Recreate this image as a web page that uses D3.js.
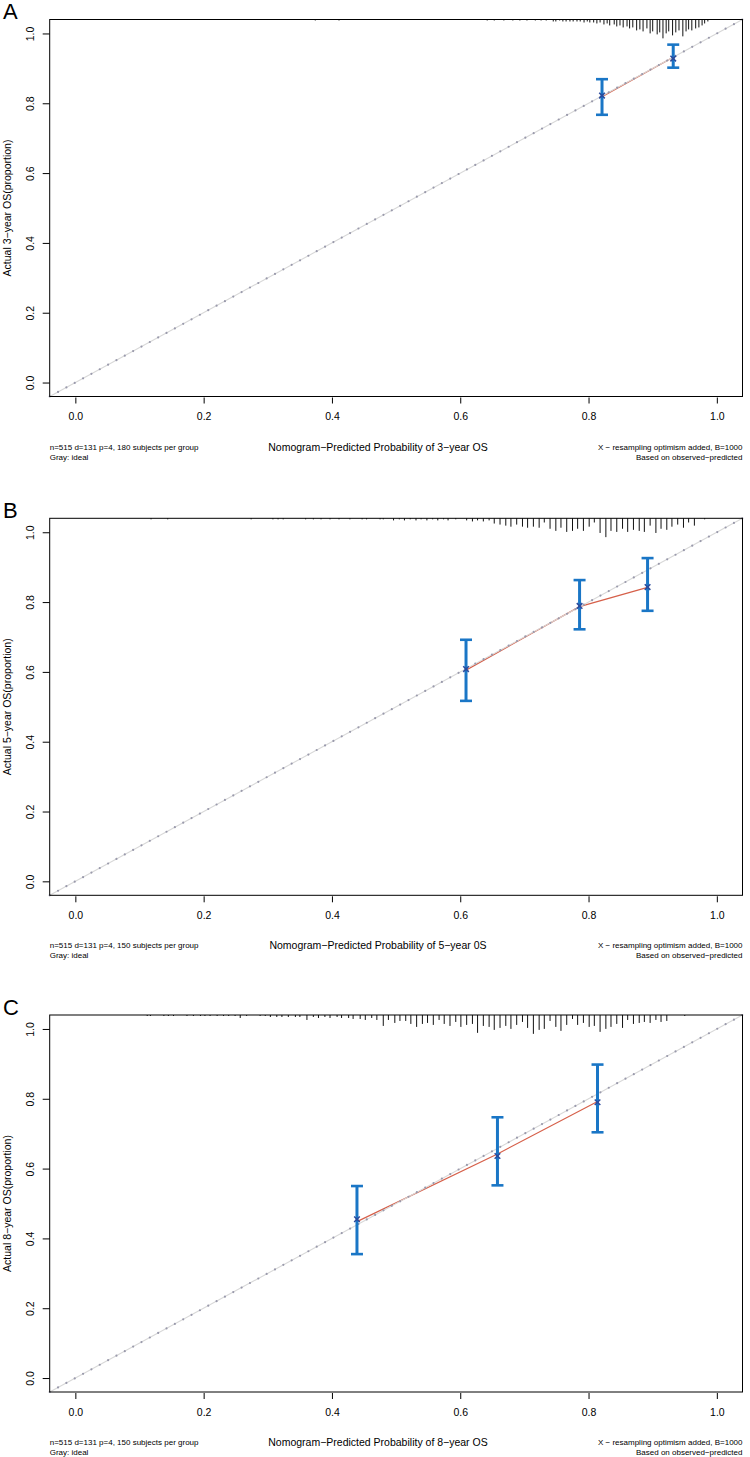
<!DOCTYPE html>
<html>
<head>
<meta charset="utf-8">
<script src="https://cdn.jsdelivr.net/npm/d3@7"></script>
<style>
  body { margin: 0; background: #fff; }
  svg { display: block; }
  text { font-family: "Liberation Sans", Arial, Helvetica, sans-serif; fill: #000; }
</style>
</head>
<body>
<svg width="750" height="1457"></svg>
<script>
// ---- data ----
const ticks = [0, 0.2, 0.4, 0.6, 0.8, 1.0];
const panelLabels = ["A", "B", "C"];
const yTitles = ["Actual 3\u2212year OS(proportion)", "Actual 5\u2212year OS(proportion)", "Actual 8\u2212year OS(proportion)"];
const xTitles = ["Nomogram\u2212Predicted Probability of 3\u2212year OS",
                 "Nomogram\u2212Predicted Probability of 5\u2212year 0S",
                 "Nomogram\u2212Predicted Probability of 8\u2212year OS"];
const groupNotes = ["n=515 d=131 p=4, 180 subjects per group",
                    "n=515 d=131 p=4, 150 subjects per group",
                    "n=515 d=131 p=4, 150 subjects per group"];
const idealNote = "Gray: ideal";
const bootNote = "X \u2212 resampling optimism added, B=1000";
const basisNote = "Based on observed\u2212predicted";

// calibration points: mean predicted, observed (KM), CI, bias-corrected
const predA = [0.821, 0.932];
const obsA  = [0.819, 0.932];
const lowA  = [0.767, 0.902];
const upA   = [0.869, 0.968];
const corrA = [0.822, 0.928];

const predB = [0.609, 0.786, 0.892];
const obsB  = [0.605, 0.787, 0.842];
const lowB  = [0.517, 0.722, 0.775];
const upB   = [0.692, 0.863, 0.926];
const corrB = [0.608, 0.789, 0.843];

const predC = [0.439, 0.658, 0.814];
const obsC  = [0.448, 0.642, 0.792];
const lowC  = [0.355, 0.552, 0.704];
const upC   = [0.550, 0.747, 0.898];
const corrC = [0.455, 0.636, 0.790];

// spike histogram of predicted probabilities [prob, frequency]
const rugA = [[0.374,1],[0.411,1],[0.642,1],[0.653,1],[0.668,1],[0.682,1],[0.693,1],[0.704,1],[0.717,1],[0.726,1],
  [0.734,1],[0.745,2],[0.749,2],[0.755,1],[0.760,2],[0.765,2],[0.771,2],[0.776,2],[0.782,2],[0.787,2],[0.793,3],
  [0.798,2],[0.802,3],[0.808,3],[0.813,4],[0.818,3],[0.824,5],[0.829,4],[0.833,6],[0.840,5],[0.844,7],[0.849,6],
  [0.854,8],[0.860,7],[0.864,9],[0.869,8],[0.875,11],[0.880,10],[0.885,12],[0.891,9],[0.896,14],[0.900,12],
  [0.907,15],[0.911,13],[0.916,19],[0.921,14],[0.925,12],[0.931,16],[0.936,13],[0.941,11],[0.947,17],[0.952,12],
  [0.956,10],[0.961,11],[0.967,9],[0.972,8],[0.977,6],[0.981,4],[0.986,2]];

const rugB = [[0.118,1],[0.144,1],[0.274,1],[0.308,1],[0.316,1],[0.324,1],[0.359,1],[0.371,1],[0.383,1],[0.397,1],
  [0.411,1],[0.428,1],[0.447,1],[0.454,1],[0.475,1],[0.480,1],[0.496,2],[0.505,1],[0.513,2],[0.522,1],[0.531,2],
  [0.539,1],[0.548,2],[0.557,1],[0.565,2],[0.574,1],[0.581,2],[0.593,1],[0.610,2],[0.619,3],[0.627,2],[0.636,3],
  [0.645,2],[0.653,5],[0.662,6],[0.671,7],[0.679,8],[0.688,6],[0.697,8],[0.705,9],[0.714,8],[0.723,9],[0.731,4],
  [0.740,10],[0.749,12],[0.757,9],[0.766,13],[0.775,12],[0.783,10],[0.792,12],[0.801,8],[0.809,4],[0.818,14],
  [0.827,18],[0.835,12],[0.844,13],[0.853,10],[0.861,13],[0.870,11],[0.879,12],[0.887,13],[0.896,7],[0.905,14],
  [0.913,10],[0.922,11],[0.930,8],[0.939,6],[0.948,9],[0.956,4],[0.965,7],[0.981,1]];

const rugC = [[0.112,1],[0.117,1],[0.138,1],[0.145,1],[0.153,1],[0.174,1],[0.184,1],[0.195,1],[0.202,1],[0.210,1],
  [0.221,1],[0.231,1],[0.239,1],[0.249,1],[0.257,3],[0.267,1],[0.288,1],[0.296,1],[0.304,2],[0.314,2],[0.322,2],
  [0.332,2],[0.343,2],[0.350,2],[0.361,5],[0.371,2],[0.379,3],[0.389,2],[0.397,3],[0.408,2],[0.415,3],[0.426,3],
  [0.433,4],[0.444,4],[0.452,5],[0.462,3],[0.470,5],[0.480,11],[0.488,5],[0.498,8],[0.506,6],[0.515,6],[0.523,9],
  [0.532,12],[0.541,9],[0.549,8],[0.558,10],[0.567,5],[0.575,9],[0.584,11],[0.593,7],[0.601,12],[0.610,10],
  [0.619,9],[0.627,18],[0.636,11],[0.645,12],[0.653,15],[0.662,13],[0.671,11],[0.679,14],[0.688,10],[0.697,7],
  [0.705,13],[0.714,19],[0.723,15],[0.731,14],[0.740,6],[0.749,12],[0.757,16],[0.766,10],[0.775,4],[0.783,10],
  [0.792,8],[0.801,12],[0.809,11],[0.818,17],[0.827,14],[0.835,12],[0.844,9],[0.853,13],[0.861,5],[0.870,9],
  [0.879,8],[0.887,7],[0.896,8],[0.905,5],[0.913,7],[0.922,6],[0.950,1]];

const panels = [
  { pred: predA, obs: obsA, low: lowA, up: upA, corr: corrA, rug: rugA },
  { pred: predB, obs: obsB, low: lowB, up: upB, corr: corrB, rug: rugB },
  { pred: predC, obs: obsC, low: lowC, up: upC, corr: corrC, rug: rugC }
];

// ---- layout ----
const svg = d3.select("svg");
const offsets = [0, 498.8, 995.5];
const plotL = 49.7, plotR = 742.5, plotT = 19.5, plotB = 396.5;
const barCol = "#1a76c6", redCol = "#d6604a", xCol = "#2b4a9c";

panels.forEach((p, i) => {
  const g = svg.append("g").attr("transform", `translate(0,${offsets[i]})`);

  const x = d3.scaleLinear().domain([-0.04, 1.04]).range([plotL, plotR]);
  const y = d3.scaleLinear().domain([-0.04, 1.04]).range([plotB, plotT]);
  // spikes are 5% of the plot height at most
  const h = d3.scaleLinear().domain([0, d3.max(p.rug, d => d[1])]).range([0, 0.05 * (plotB - plotT)]);

  /* spike histogram */
  g.selectAll(".spike").data(p.rug).join("line")
    .attr("class", "spike")
    .attr("x1", d => x(d[0])).attr("x2", d => x(d[0]))
    .attr("y1", plotT).attr("y2", d => plotT + h(d[1]))
    .attr("stroke", "#111").attr("stroke-width", 1);

  /* apparent calibration line */
  const idx = d3.range(p.pred.length);
  g.append("path")
    .attr("d", d3.line().x(k => x(p.pred[k])).y(k => y(p.obs[k]))(idx))
    .attr("fill", "none").attr("stroke", redCol).attr("stroke-width", 1.2);

  /* ideal line, gray with dots */
  const ideal = d3.line().x(d => x(d)).y(d => y(d))([-0.04, 1.04]);
  g.append("path").attr("d", ideal).attr("stroke", "#d8d8d8").attr("stroke-width", 1.1).attr("fill", "none");
  g.append("path").attr("d", ideal).attr("stroke", "#9a9aac").attr("stroke-width", 2.2)
    .attr("stroke-linecap", "round").attr("stroke-dasharray", "0,9.5").attr("fill", "none");

  /* error bars */
  g.selectAll(".eb").data(idx).join("line")
    .attr("class", "eb")
    .attr("x1", k => x(p.pred[k])).attr("x2", k => x(p.pred[k]))
    .attr("y1", k => y(p.low[k])).attr("y2", k => y(p.up[k]))
    .attr("stroke", barCol).attr("stroke-width", 3);
  ["low", "up"].forEach(key => {
    g.selectAll(".cap-" + key).data(idx).join("line")
      .attr("class", "cap-" + key)
      .attr("x1", k => x(p.pred[k]) - 6).attr("x2", k => x(p.pred[k]) + 6)
      .attr("y1", k => y(p[key][k])).attr("y2", k => y(p[key][k]))
      .attr("stroke", barCol).attr("stroke-width", 2.6);
  });

  /* bias-corrected X */
  g.selectAll(".xm").data(idx).join("path")
    .attr("class", "xm")
    .attr("transform", k => `translate(${x(p.pred[k])},${y(p.corr[k])})`)
    .attr("d", "M-2.8,-2.8L2.8,2.8M-2.8,2.8L2.8,-2.8")
    .attr("stroke", xCol).attr("stroke-width", 1.5).attr("fill", "none");

  /* box */
  g.append("rect")
    .attr("x", plotL).attr("y", plotT).attr("width", plotR - plotL).attr("height", plotB - plotT)
    .attr("fill", "none").attr("stroke", "#000").attr("stroke-width", 1);

  /* axes */
  const xAxis = g.append("g").attr("transform", `translate(0,${plotB + 1})`)
    .call(d3.axisBottom(x).tickValues(ticks).tickFormat(d3.format(".1f")).tickSize(6).tickPadding(9.5));
  xAxis.select(".domain").remove();
  xAxis.selectAll("text").attr("font-size", 10.5).attr("font-family", null);

  const yAxis = g.append("g").attr("transform", `translate(${plotL},0)`)
    .call(d3.axisLeft(y).tickValues(ticks).tickFormat(d3.format(".1f")).tickSize(7));
  yAxis.select(".domain").remove();
  yAxis.selectAll("text")
    .attr("x", null).attr("dy", null)
    .attr("text-anchor", "middle")
    .attr("transform", "translate(-16,0) rotate(-90)")
    .attr("font-size", 10.5).attr("font-family", null);
  g.selectAll(".tick line").attr("stroke", "#000");

  /* texts */
  g.append("text").attr("x", 3).attr("y", plotT - 0.3).attr("font-size", 22).text(panelLabels[i]);
  g.append("text")
    .attr("transform", `translate(11,${(plotT + plotB) / 2}) rotate(-90)`)
    .attr("text-anchor", "middle").attr("font-size", 10.5).text(yTitles[i]);
  g.append("text").attr("x", 378).attr("y", plotB + 54)
    .attr("text-anchor", "middle").attr("font-size", 10.5).text(xTitles[i]);

  g.append("text").attr("x", plotL).attr("y", plotB + 53.2).attr("font-size", 8).text(groupNotes[i]);
  g.append("text").attr("x", plotL).attr("y", plotB + 63.2).attr("font-size", 8).text(idealNote);
  g.append("text").attr("x", plotR).attr("y", plotB + 53.2).attr("text-anchor", "end").attr("font-size", 8).text(bootNote);
  g.append("text").attr("x", plotR).attr("y", plotB + 63.2).attr("text-anchor", "end").attr("font-size", 8).text(basisNote);
});
</script>
</body>
</html>
